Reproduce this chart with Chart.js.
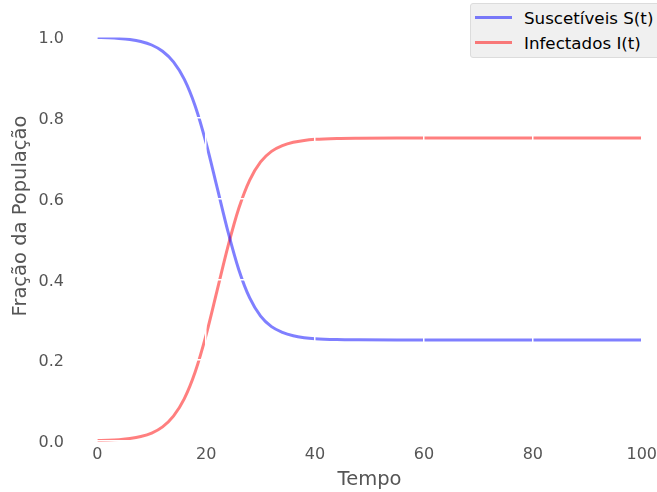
<!DOCTYPE html>
<html>
<head>
<meta charset="utf-8">
<script src="https://cdn.jsdelivr.net/npm/chart.js@4/dist/chart.umd.min.js"></script>
<style>
  html, body { margin: 0; padding: 0; background: #fff; overflow: hidden; width: 657px; height: 492px; }
  #wrap { position: absolute; left: 0; top: -45px; width: 700px; height: 538px; }
  #legend {
    position: absolute; left: 470px; top: 3px; width: 200px; height: 53px;
    background: #f0f0f0; border: 1px solid #dcdcdc; border-radius: 3px;
    font-family: 'DejaVu Sans'; font-size: 16.7px; color: #000;
  }
  .row { position: absolute; left: 0; height: 20px; line-height: 20px; white-space: nowrap; }
  .swatch { position: absolute; left: 4px; top: 8px; width: 37px; height: 3px; }
  .lbl { position: absolute; left: 53px; top: 0; }
</style>
</head>
<body>
<div id="wrap"><canvas id="chartSir" width="700" height="538"></canvas></div>
<div id="legend"></div>
<script>
/* Modelo SI — fração da população ao longo do tempo */

const tempo = [0, 2, 4, 6, 8, 10, 12, 14, 16, 18, 20, 22, 24, 26, 28, 30, 32, 34, 36, 38, 40, 44, 48, 55, 60, 70, 80, 90, 100];
const suscetiveis = [0.999, 0.9982, 0.9967, 0.994, 0.9891, 0.9804, 0.965, 0.9387, 0.8953, 0.8289, 0.7375, 0.6285, 0.519, 0.424, 0.354, 0.309, 0.283, 0.269, 0.2605, 0.2558, 0.2532, 0.251, 0.2503, 0.25, 0.25, 0.25, 0.25, 0.25, 0.25];
const infectados = [0.001, 0.0018, 0.0033, 0.006, 0.0109, 0.0196, 0.035, 0.0613, 0.1047, 0.1711, 0.2625, 0.3715, 0.481, 0.576, 0.646, 0.691, 0.717, 0.731, 0.7395, 0.7442, 0.7468, 0.749, 0.7497, 0.75, 0.75, 0.75, 0.75, 0.75, 0.75];
const xTicks = [0, 20, 40, 60, 80, 100];
const yTicks = [0, 0.2, 0.4, 0.6, 0.8, 1.0];

const FONT = 'DejaVu Sans';
const series = [
  { label: 'Suscetíveis S(t)', values: suscetiveis, color: 'rgba(0,0,255,0.5)' },
  { label: 'Infectados I(t)', values: infectados, color: 'rgba(255,0,0,0.5)' }
];

const ctx = document.getElementById('chartSir').getContext('2d');
const chart = new Chart(ctx, {
  type: 'line',
  data: {
    datasets: series.map(s => ({
      label: s.label,
      data: tempo.map((t, i) => ({ x: t, y: s.values[i] })),
      borderColor: s.color,
      borderWidth: 3,
      pointRadius: 0,
      cubicInterpolationMode: 'monotone',
      clip: false
    }))
  },
  options: {
    responsive: false,
    animation: false,
    layout: { padding: { top: 32, right: 31, left: 0, bottom: 0 } },
    plugins: { legend: { display: false }, tooltip: { enabled: false } },
    scales: {
      x: {
        type: 'linear', min: -5, max: 105,
        afterBuildTicks: axis => { axis.ticks = xTicks.map(v => ({ value: v })); },
        afterFit: axis => { axis.height = 48; },
        grid: { color: '#ffffff', lineWidth: 1.5, drawTicks: false, z: 1 },
        border: { display: false },
        ticks: { padding: 0, color: '#555555', font: { family: FONT, size: 16 }, maxRotation: 0 },
        title: { display: true, text: 'Tempo', color: '#555555', font: { family: FONT, size: 19.5 }, padding: { top: 0, bottom: 1 } }
      },
      y: {
        min: -0.01, max: 1.124,
        afterBuildTicks: axis => { axis.ticks = yTicks.map(v => ({ value: v })); },
        afterFit: axis => { axis.width = 70; },
        grid: { color: '#ffffff', lineWidth: 1.5, drawTicks: false, z: 1 },
        border: { display: false },
        ticks: { padding: 6, labelOffset: 2, color: '#555555', font: { family: FONT, size: 16 }, callback: v => v.toFixed(1) },
        title: { display: true, text: 'Fração da População', color: '#555555', font: { family: FONT, size: 19.5 }, padding: { top: 9, bottom: 0 } }
      }
    }
  }
});

// legenda no canto superior direito
const legend = document.getElementById('legend');
chart.data.datasets.forEach((ds, i) => {
  const row = document.createElement('div');
  row.className = 'row';
  row.style.top = (4 + i * 25) + 'px';
  row.innerHTML = '<span class="swatch" style="background:' + ds.borderColor + '"></span><span class="lbl">' + ds.label + '</span>';
  legend.appendChild(row);
});
</script>
</body>
</html>
